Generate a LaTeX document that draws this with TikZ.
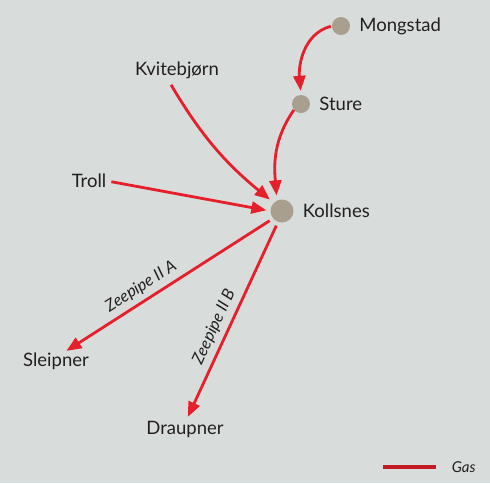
\documentclass[tikz,border=0pt]{standalone}
\usepackage{fontspec}
\setmainfont{Lato}
\usetikzlibrary{arrows.meta,positioning}
\definecolor{bgcol}{RGB}{216,220,218}
\definecolor{pipered}{RGB}{230,32,42}
\definecolor{dotcol}{RGB}{168,159,143}
\definecolor{txtcol}{RGB}{35,31,32}
\tikzset{
  site/.style={circle, fill=dotcol, inner sep=0pt, minimum size=18pt},
  place/.style={text=txtcol, inner sep=1pt, font=\fontsize{18.5}{20}\selectfont},
  pipe/.style={draw=pipered, line width=2.8pt, -{Triangle[length=15pt,width=12pt]}},
  pipelabel/.style={text=txtcol, inner sep=2pt, font=\fontsize{16.5}{18}\selectfont\itshape},
}
\begin{document}
\begin{tikzpicture}[x=1pt,y=1pt]
    \fill[bgcol] (0,0) rectangle (490,-483);
    \useasboundingbox (0,0) rectangle (490,-483);
    \node[site] (mongstad) at (341,-26) {};
    \node[site] (sture) at (301,-104) {};
    \node[site, minimum size=23pt] (kollsnes) at (282,-211) {};
    \node[place, right=8pt of mongstad] (mongstadtxt) {Mongstad};
    \node[place, right=8pt of sture] (sturetxt) {Sture};
    \node[place, right=8pt of kollsnes] (kollsnestxt) {Kollsnes};
    \node[place] (kvitebjorn) at (177,-70) {Kvitebjørn};
    \node[place] (troll) at (89,-181) {Troll};
    \node[place] (sleipner) at (56,-361) {Sleipner};
    \node[place] (draupner) at (185,-429) {Draupner};
    \draw[pipe, shorten <=1pt, shorten >=4pt] (mongstad.west) to[out=195, in=95] (sture.north);
    \draw[pipe, shorten >=5pt] (sture.220) to[out=235, in=95] (kollsnes.115);
    \draw[pipe, shorten <=6pt, shorten >=5pt] (kvitebjorn.south west -| 168,0) to[bend right=10] (kollsnes.135);
    \draw[pipe, shorten <=4pt, shorten >=4pt] (troll.east) -- (kollsnes.west);
    \draw[pipe, shorten <=4pt, shorten >=1pt] (kollsnes.220) -- node[pipelabel, pos=0.6, sloped, above=3pt] {Zeepipe II A} (sleipner.45);
    \draw[pipe, shorten <=4pt, shorten >=3pt] (kollsnes.250) -- node[pipelabel, pos=0.56, sloped, above=3pt] {Zeepipe II B} (draupner.80);
    \coordinate (legA) at (383,-467);
    \coordinate (legB) at (436,-467);
    \draw[draw=pipered!85!black, line width=3.5pt] (legA) -- (legB) node[pipelabel, right=12pt, font=\fontsize{15}{17}\selectfont\itshape] (gas) {Gas};
\end{tikzpicture}
\end{document}
